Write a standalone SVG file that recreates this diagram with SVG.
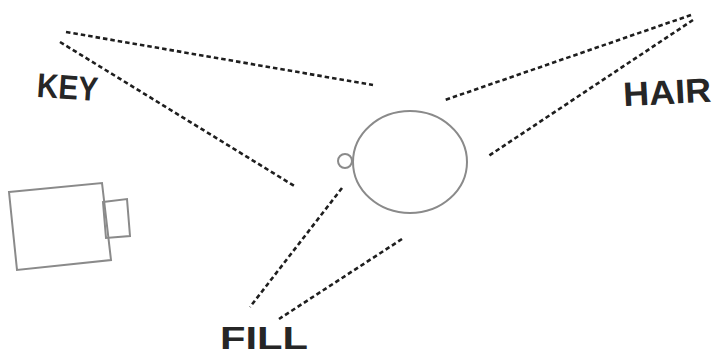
<svg xmlns="http://www.w3.org/2000/svg" width="712" height="356" viewBox="0 0 712 356">
<style>
.beam{stroke:#1e1e1e;stroke-width:2.6;stroke-dasharray:4.5 3;fill:none}
.sketch{stroke:#8a8a8a;stroke-width:2;fill:none}
.lbl{font-family:"Liberation Sans",Arial,sans-serif;font-weight:bold;fill:#262626;font-size:34px}
</style>
<rect width="712" height="356" fill="#ffffff"/>
<g id="connectors">
<line class="beam" x1="66" y1="32" x2="373" y2="85"/>
<line class="beam" x1="60" y1="42" x2="296" y2="187"/>
<line class="beam" x1="691" y1="15" x2="445" y2="100"/>
<line class="beam" x1="693" y1="20" x2="487" y2="157"/>
<line class="beam" x1="342" y1="188" x2="250" y2="307"/>
<line class="beam" x1="402" y1="239" x2="279" y2="319"/>
</g>
<g id="subject">
<ellipse class="sketch" cx="410" cy="162" rx="57" ry="51"/>
<circle class="sketch" cx="345" cy="161" r="7" fill="#fff"/>
</g>
<g id="camera">
<polygon class="sketch" points="9,192 102,183 111,260 17,270"/>
<polygon class="sketch" points="103,202 127,199 130,236 106,238"/>
</g>
<g id="key">
<text class="lbl" x="37" y="99" textLength="61" lengthAdjust="spacingAndGlyphs" transform="rotate(4 68 88)">KEY</text>
</g>
<g id="hair">
<text class="lbl" x="623" y="104" textLength="88" lengthAdjust="spacingAndGlyphs" transform="rotate(-3 667 90)">HAIR</text>
</g>
<g id="fill">
<text class="lbl" x="220" y="349" textLength="88" lengthAdjust="spacingAndGlyphs" style="font-size:32px">FILL</text>
</g>
</svg>
